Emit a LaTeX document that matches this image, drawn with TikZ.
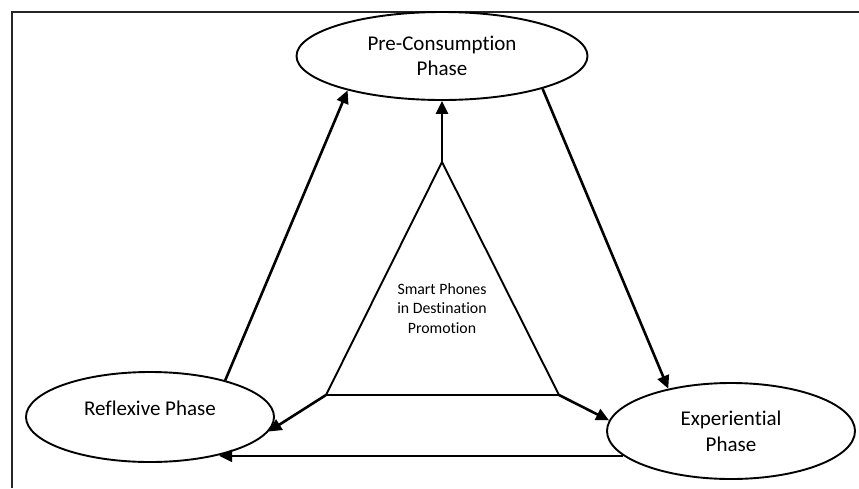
\documentclass[tikz,border=0pt]{standalone}
\usepackage{fontspec}
\setmainfont{Carlito}[Ligatures={NoCommon}]
\usetikzlibrary{positioning,shapes.geometric,arrows.meta}
\tikzset{
  phase/.style={
    ellipse, draw, line width=1.9pt, inner sep=0pt, align=center,
    font=\fontsize{21}{25.6}\selectfont
  },
  flow/.style={
    line width=2.6pt, -{Triangle[length=13pt,width=12pt]}
  }
}

\begin{document}
\begin{tikzpicture}[x=1pt,y=1pt]
      \useasboundingbox (0,0) rectangle (859,-488);
      \draw [line width=2.4pt, draw=black!85] (12,-488) -- (12,-12) -- (859,-12);

      \node [phase, minimum width=291pt, minimum height=88pt] (Pre) at (442,-56)
      {Pre-Consumption\\Phase};
      \node [phase, on grid, below left=361pt and 292pt of Pre, minimum width=248pt, minimum height=90pt]
      (Refl) {\raisebox{9pt}[\height][\depth]{Reflexive Phase}};
      \node [phase, on grid, below right=375pt and 289pt of Pre, minimum width=248pt, minimum height=96pt]
      (Exp) {Experiential\\Phase};

      \coordinate [on grid, below=106pt of Pre] (Apex);
      \coordinate [on grid, below left=233pt and 116pt of Apex] (Left);
      \coordinate [on grid, below right=233pt and 117pt of Apex] (Right);
      \draw [line width=1.9pt, line join=miter] (Apex) -- (Left) -- (Right) -- cycle;
      \node [on grid, below=118pt of Apex, align=center, font=\fontsize{15.8}{19.3}\selectfont]
      (Smart) {Smart Phones\\in Destination\\Promotion};

      \draw [flow] (Apex) -- (Pre);
      \draw [flow] (Left) -- (Refl.-7);
      \draw [flow] (Right) -- (Exp.175);
      \draw [flow] (Refl.26) -- (Pre.200);
      \draw [flow] (Pre.-18) -- (Exp.146);
      \draw [flow] (Exp.193) -- (Refl.-29 |- Exp.193);
    \end{tikzpicture}
\end{document}
